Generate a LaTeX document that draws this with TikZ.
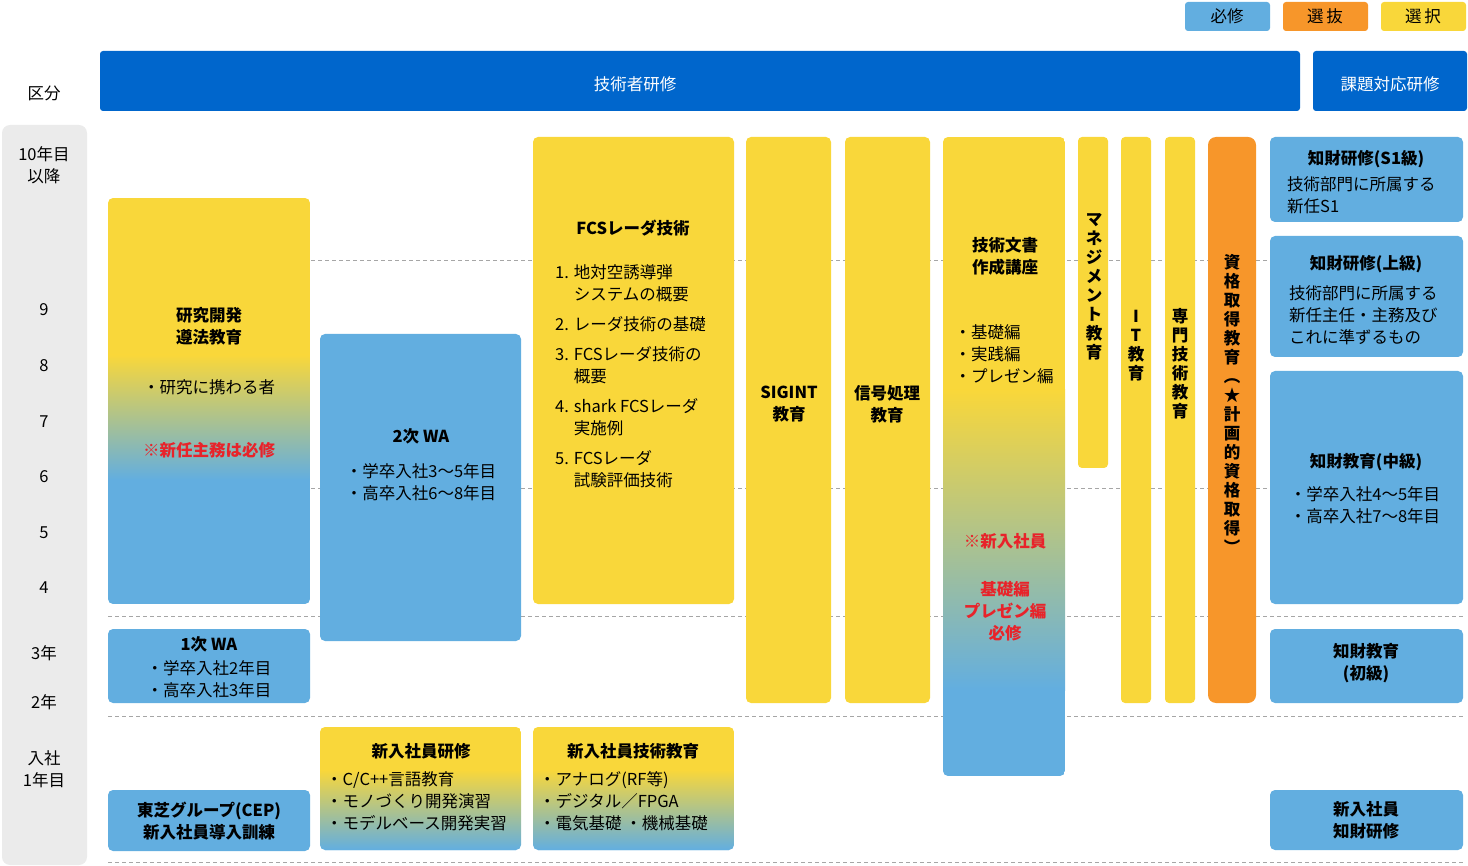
\documentclass[tikz,border=0pt]{standalone}
\usepackage{fontspec}
\setmainfont{Noto Sans CJK JP}
\usetikzlibrary{positioning}
\definecolor{hdblue}{HTML}{0066CC}
\definecolor{ltblue}{HTML}{62AEE0}
\definecolor{ylw}{HTML}{F9D73A}
\definecolor{org}{HTML}{F7962A}
\definecolor{gry}{HTML}{EBEBEB}
\definecolor{redtxt}{HTML}{E8232A}
\tikzstyle{txt} = [
  font=\fontsize{16.5}{22}\selectfont,
  align=center,
  inner sep=0
]
\tikzstyle{ttl} = [
  txt,
  font=\fontsize{16.5}{22}\selectfont\bfseries
]
\tikzstyle{lst} = [
  txt,
  align=left
]
\tikzstyle{grid} = [
  gray!70,
  dashed,
  dash pattern=on 4pt off 3pt
]
\newcommand{\gradbox}[6]{%
  \begin{scope}
    \clip[rounded corners=5pt] (#1,#2) rectangle (#3,#4);
    \fill[ylw] (#1,#2) rectangle (#3,#5);
    \shade[top color=ylw,bottom color=ltblue] (#1,#5) rectangle (#3,#6);
    \fill[ltblue] (#1,#6) rectangle (#3,#4);
  \end{scope}}
\begin{document}
\begin{tikzpicture}[x=1pt,y=-1pt]
  \useasboundingbox (0,0) rectangle (1468,866);

  % legend
  \fill[ltblue,rounded corners=3pt] (1185,2) rectangle (1270,31);
  \fill[org,rounded corners=3pt] (1283,2) rectangle (1368,31);
  \fill[ylw,rounded corners=3pt] (1381,2) rectangle (1466,31);
  \node[txt] (lgmust) at (1227,16) {必修};
  \node[txt] (lgsel) at (1325,16) {選\,抜};
  \node[txt] (lgopt) at (1423,16) {選\,択};

  % header
  \node[txt] (kubun) at (44,93) {区分};
  \fill[hdblue,rounded corners=3pt] (100,51) rectangle (1300,111);
  \fill[hdblue,rounded corners=3pt] (1313,51) rectangle (1467,111);
  \node[txt,white] (engr) at (635,84) {技術者研修};
  \node[txt,white] (task) at (1390,84) {課題対応研修};

  % year column
  \fill[gry,rounded corners=8pt] (2,125) rectangle (87,865);
  \node[txt] (y10) at (44,165) {10年目\\以降};
  \foreach \yr/\yy in {9/310,8/366,7/422,6/477,5/533,4/588,3年/653,2年/702}
    \node[txt] (y\yy) at (44,\yy) {\yr};
  \node[txt] (y1) at (44,769) {入社\\1年目};

  % grid lines
  \foreach \yy in {260,488,616,716,862}
    \draw[grid] (108,\yy) -- (1463,\yy);

  % column 1
  \gradbox{108}{198}{310}{604}{355}{480}
  \node[ttl] (rnd) at (209,326) {研究開発\\遵法教育};
  \node[txt] (rndwho) at (209,387) {・研究に携わる者};
  \node[ttl,redtxt] (rndmust) at (209,450) {※新任主務は必修};
  \fill[ltblue,rounded corners=5pt] (108,629) rectangle (310,703);
  \node[ttl] (wa1) at (209,644) {1次 WA};
  \node[lst] (wa1who) at (209,679) {・学卒入社2年目\\・高卒入社3年目};
  \fill[ltblue,rounded corners=5pt] (108,790) rectangle (310,851);
  \node[ttl] (cep) at (209,821) {東芝グループ(CEP)\\新入社員導入訓練};

  % column 2
  \fill[ltblue,rounded corners=5pt] (320,334) rectangle (521,641);
  \node[ttl] (wa2) at (421,436) {2次 WA};
  \node[lst] (wa2who) at (421,482) {・学卒入社3～5年目\\・高卒入社6～8年目};
  \gradbox{320}{727}{521}{850}{770}{850}
  \node[ttl] (newtr) at (421,751) {新入社員研修};
  \node[lst,anchor=north west] (newtrl) at (326,771) {・C/C++言語教育\\・モノづくり開発演習\\・モデルベース開発実習};

  % column 3
  \fill[ylw,rounded corners=5pt] (533,137) rectangle (734,604);
  \node[ttl] (fcs) at (633,228) {FCSレーダ技術};
  \node[lst,anchor=north west,font=\fontsize{16.5}{22}\selectfont] (fcsl) at (555,264)
    {1. 地対空誘導弾\\\phantom{1. }システムの概要\\[8pt]2. レーダ技術の基礎\\[8pt]3. FCSレーダ技術の\\\phantom{3. }概要\\[8pt]4. shark FCSレーダ\\\phantom{4. }実施例\\[8pt]5. FCSレーダ\\\phantom{5. }試験評価技術};
  \gradbox{533}{727}{734}{850}{770}{850}
  \node[ttl] (newtech) at (633,751) {新入社員技術教育};
  \node[lst,anchor=north west] (newtechl) at (539,771) {・アナログ(RF等)\\・デジタル／FPGA\\・電気基礎 ・機械基礎};

  % narrow columns
  \fill[ylw,rounded corners=5pt] (746,137) rectangle (831,703);
  \node[ttl] (sigint) at (789,404) {SIGINT\\教育};
  \fill[ylw,rounded corners=5pt] (845,137) rectangle (930,703);
  \node[ttl] (sigproc) at (887,404) {信号処理\\教育};
  \gradbox{943}{137}{1065}{776}{390}{690}
  \node[ttl] (doc) at (1005,256) {技術文書\\作成講座};
  \node[lst] (docl) at (1004,354) {・基礎編\\・実践編\\・プレゼン編};
  \node[ttl,redtxt] (docnew) at (1005,541) {※新入社員};
  \node[ttl,redtxt] (docmust) at (1005,611) {基礎編\\プレゼン編\\必修};
  \fill[ylw,rounded corners=4pt] (1078,137) rectangle (1108,468);
  \node[ttl,font=\fontsize{16.5}{19}\selectfont\bfseries] (mgmt) at (1094,287) {マ\\ネ\\ジ\\メ\\ン\\ト\\教\\育};
  \fill[ylw,rounded corners=4pt] (1121,137) rectangle (1151,703);
  \node[ttl,font=\fontsize{16.5}{19}\selectfont\bfseries] (it) at (1136,346) {I\\T\\教\\育};
  \fill[ylw,rounded corners=4pt] (1165,137) rectangle (1195,703);
  \node[ttl,font=\fontsize{16.5}{19}\selectfont\bfseries] (spec) at (1180,364) {専\\門\\技\\術\\教\\育};
  \fill[org,rounded corners=8pt] (1208,137) rectangle (1256,703);
  \node[ttl,font=\fontsize{16.5}{19}\selectfont\bfseries] (qual) at (1232,404)
    {資\\格\\取\\得\\教\\育\\︵\\★\\計\\画\\的\\資\\格\\取\\得\\︶};

  % right column
  \fill[ltblue,rounded corners=5pt] (1270,137) rectangle (1463,222);
  \node[ttl] (ips1) at (1366,159) {知財研修(S1級)};
  \node[lst,anchor=north west] (ips1l) at (1287,176) {技術部門に所属する\\新任S1};
  \fill[ltblue,rounded corners=5pt] (1270,236) rectangle (1463,357);
  \node[ttl] (ipadv) at (1366,264) {知財研修(上級)};
  \node[lst,anchor=north west] (ipadvl) at (1289,285) {技術部門に所属する\\新任主任・主務及び\\これに準ずるもの};
  \fill[ltblue,rounded corners=5pt] (1270,371) rectangle (1463,604);
  \node[ttl] (ipmid) at (1366,462) {知財教育(中級)};
  \node[lst] (ipmidl) at (1365,505) {・学卒入社4～5年目\\・高卒入社7～8年目};
  \fill[ltblue,rounded corners=5pt] (1270,629) rectangle (1463,703);
  \node[ttl] (ipbas) at (1366,663) {知財教育\\(初級)};
  \fill[ltblue,rounded corners=5pt] (1270,790) rectangle (1463,850);
  \node[ttl] (ipnew) at (1366,820) {新入社員\\知財研修};
\end{tikzpicture}
\end{document}
